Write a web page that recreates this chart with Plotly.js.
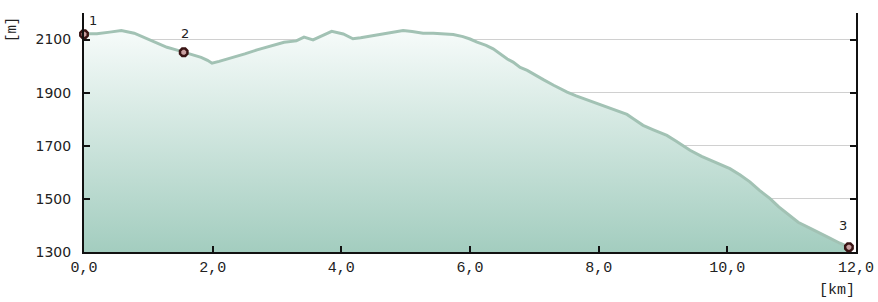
<!DOCTYPE html>
<html>
<head>
<meta charset="utf-8">
<script src="https://cdn.plot.ly/plotly-3.0.1.min.js"></script>
<style>html,body{margin:0;padding:0;background:#fff}#chart{width:878px;height:302px}</style>
</head>
<body>
<div id="chart"></div>
<script>
var distanceKm = [0,0.2,0.4,0.58,0.78,0.9,1.04,1.2,1.29,1.42,1.55,1.7,1.82,1.92,1.99,2.1,2.33,2.5,2.69,2.9,3.11,3.3,3.42,3.56,3.7,3.85,4.03,4.18,4.3,4.4,4.55,4.65,4.8,4.96,5.1,5.27,5.43,5.6,5.74,5.89,6.0,6.11,6.25,6.36,6.47,6.58,6.67,6.78,6.89,7.0,7.14,7.3,7.51,7.65,7.82,8.0,8.13,8.3,8.44,8.55,8.69,8.85,9.06,9.2,9.42,9.6,9.73,9.9,10.04,10.2,10.35,10.5,10.66,10.8,10.97,11.1,11.29,11.45,11.6,11.75,11.89];
var elevationM = [2122,2122,2128,2134,2124,2112,2099,2082,2071,2062,2052,2042,2033,2022,2011,2018,2033,2046,2061,2076,2090,2095,2109,2099,2115,2131,2121,2103,2107,2111,2117,2121,2128,2134,2130,2124,2124,2122,2119,2111,2102,2090,2078,2065,2045,2027,2015,1995,1984,1968,1949,1928,1902,1888,1873,1858,1846,1832,1818,1800,1777,1760,1739,1718,1683,1660,1646,1630,1614,1590,1564,1532,1502,1470,1439,1412,1389,1368,1351,1333,1318];
var waypointKm = [0, 1.55, 11.89];
var waypointElev = [2120, 2052, 1318];
var waypointLabel = ['1', '2', '3'];
var xTickVals = [0, 2, 4, 6, 8, 10, 12];
var xTickText = ['0,0', '2,0', '4,0', '6,0', '8,0', '10,0', '12,0'];
var yTickVals = [1300, 1500, 1700, 1900, 2100];

var labelShift = [[9, 14], [1, 19], [-6, 22]];

var traces = [
  {
    x: distanceKm, y: elevationM, type: 'scatter', mode: 'lines',
    line: {color: '#a2c2b4', width: 3},
    fill: 'tozeroy',
    fillgradient: {type: 'vertical', start: 1300, stop: 2150,
      colorscale: [[0, '#a3cdbf'], [1, '#f8fcfb']]},
    hoverinfo: 'skip', showlegend: false
  },
  {
    x: waypointKm, y: waypointElev, type: 'scatter', mode: 'markers',
    marker: {symbol: 'octagon', size: 8, color: '#c9a0a0', line: {color: '#3a1414', width: 2.5}},
    cliponaxis: false, showlegend: false
  }
];

var annotations = waypointLabel.map(function (t, i) {
  return {text: t, x: waypointKm[i], y: waypointElev[i], xref: 'x', yref: 'y',
    xshift: labelShift[i][0], yshift: labelShift[i][1], showarrow: false,
    font: {family: 'DejaVu Sans', size: 13, color: '#222'}};
});
annotations.push(
  {text: '[m]', xref: 'paper', yref: 'paper', x: -0.093, y: 0.93, textangle: -90,
   xanchor: 'center', yanchor: 'middle',
   showarrow: false, font: {family: 'Liberation Mono', size: 14, color: '#222'}},
  {text: '[km]', xref: 'paper', yref: 'paper', x: 0.975, y: -0.163, xanchor: 'center', yanchor: 'middle',
   showarrow: false, font: {family: 'Liberation Mono', size: 15, color: '#222'}}
);

var layout = {
  width: 878, height: 302,
  margin: {l: 84, r: 22, t: 13, b: 50},
  paper_bgcolor: '#ffffff', plot_bgcolor: '#ffffff',
  showlegend: false,
  xaxis: {
    range: [0, 12], tickmode: 'array', tickvals: xTickVals, ticktext: xTickText,
    ticks: 'inside', ticklen: 6, tickwidth: 2, tickcolor: '#111',
    showline: true, linecolor: '#111', linewidth: 2, mirror: false,
    showgrid: false, zeroline: false,
    tickfont: {family: 'Liberation Mono', size: 15, color: '#222'}
  },
  yaxis: {
    range: [1300, 2200], tickmode: 'array', tickvals: yTickVals,
    ticks: 'inside', ticklen: 6, tickwidth: 2, tickcolor: '#111',
    showline: true, linecolor: '#111', linewidth: 2, mirror: 'ticks',
    showgrid: true, gridcolor: '#d0d0d0', gridwidth: 1, zeroline: false,
    ticklabelstandoff: 8,
    tickfont: {family: 'DejaVu Sans', size: 14, color: '#222'}
  },
  annotations: annotations
};

Plotly.newPlot('chart', traces, layout, {staticPlot: true, displayModeBar: false});
</script>
</body>
</html>
